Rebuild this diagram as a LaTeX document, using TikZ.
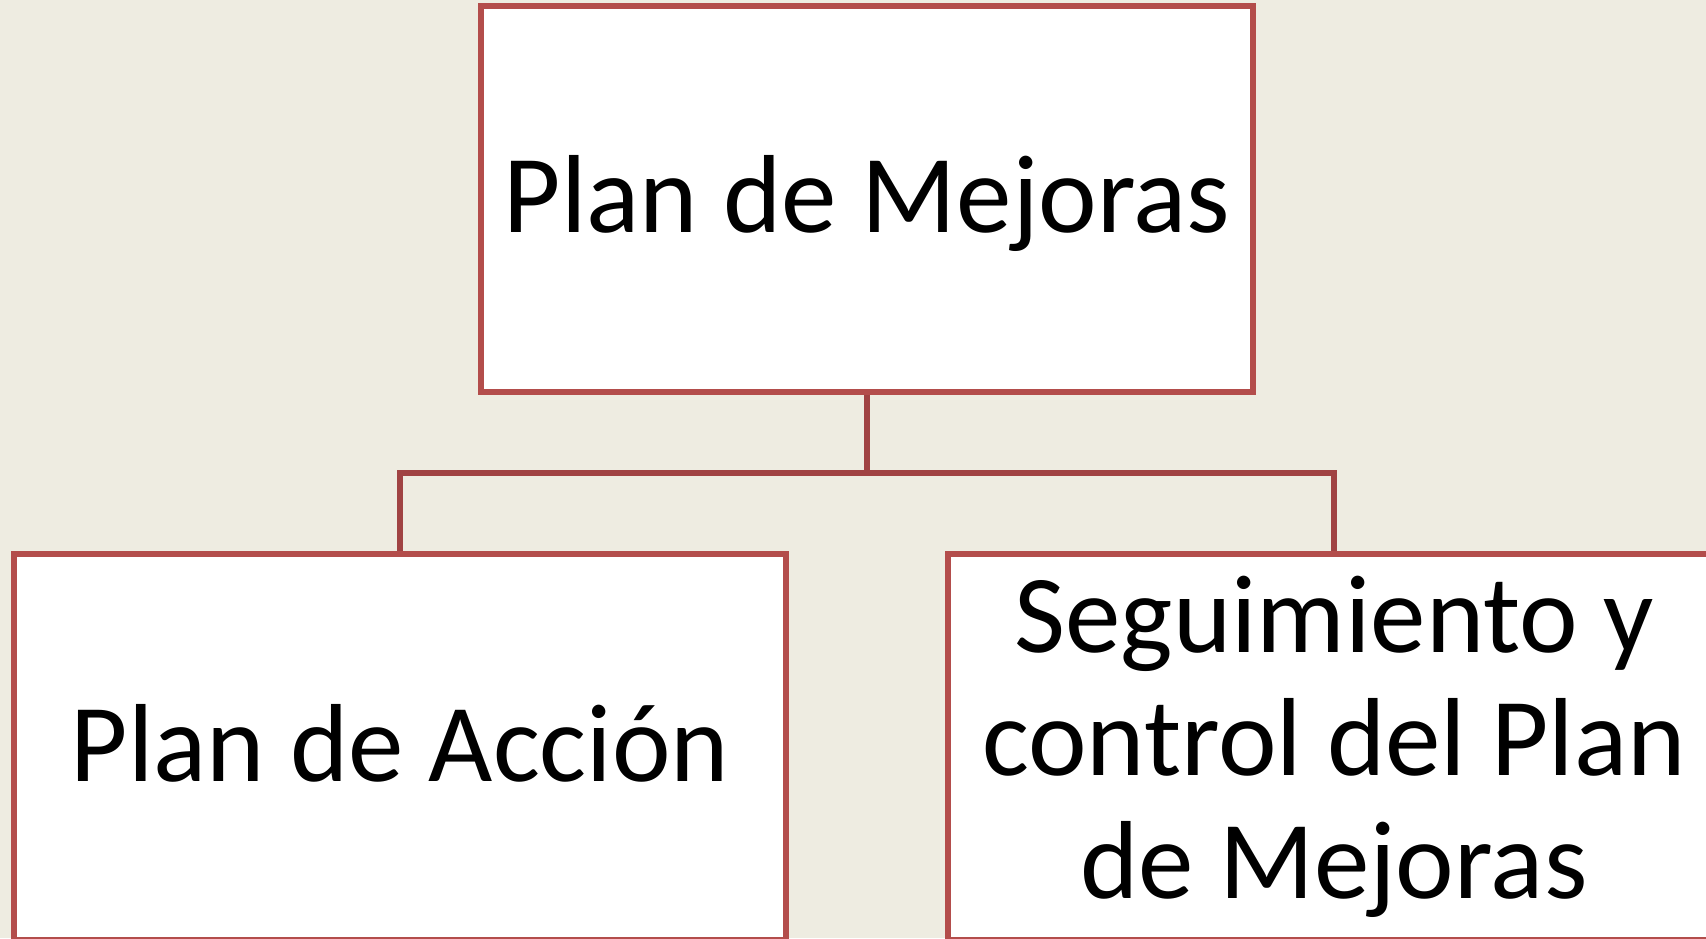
\documentclass[tikz,border=0pt]{standalone}
\usepackage{fontspec}
\setmainfont{Carlito}
\definecolor{bg}{HTML}{EEECE1}
\definecolor{boxline}{HTML}{B34D4B}
\definecolor{conn}{HTML}{A04343}
\begin{document}
\begin{tikzpicture}[x=1pt,y=-1pt,
  box/.style={draw=boxline, line width=5.5pt, fill=white, minimum width=772pt, minimum height=386pt, inner sep=0pt, align=center, font=\fontsize{111}{123}\selectfont},
  link/.style={draw=conn, line width=5.5pt}]
\fill[bg] (0,0) rectangle (1706,938);
\useasboundingbox (0,0) rectangle (1706,938);
\node[box, text height=66pt, text depth=0pt] (top) at (867,199) {Plan de Mejoras};
\node[box, text height=68pt, text depth=0pt] (left) at (400,747) {Plan de Acción};
\node[box] (right) at (1334,747) {Seguimiento y\\control del Plan\\de Mejoras};
\coordinate (mid) at (867,473);
\draw[link] (top.south) -- (mid);
\draw[link] (mid) -| (left.north);
\draw[link] (mid) -| (right.north);
\end{tikzpicture}
\end{document}
